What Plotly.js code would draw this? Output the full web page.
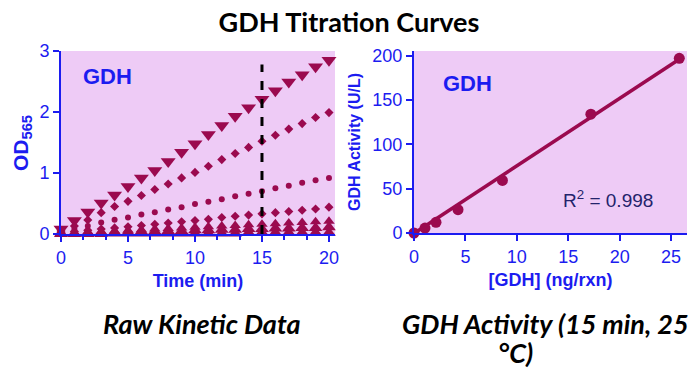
<!DOCTYPE html>
<html>
<head>
<meta charset="utf-8">
<script src="https://cdn.plot.ly/plotly-3.0.1.min.js"></script>
<style>html,body{margin:0;padding:0;background:#fff;}#chart{width:696px;height:368px;}</style>
</head>
<body>
<div id="chart"></div>
<script>
// ---- Data ----
const time = [0,1,2,3,4,5,6,7,8,9,10,11,12,13,14,15,16,17,18,19,20];
const od26 = [0.08,0.22,0.36,0.51,0.64,0.78,0.92,1.04,1.19,1.34,1.48,1.63,1.78,1.93,2.07,2.21,2.35,2.49,2.61,2.74,2.85];
const od17 = [0.05,0.13,0.23,0.35,0.45,0.535,0.63,0.73,0.82,0.92,1.01,1.11,1.22,1.32,1.42,1.52,1.62,1.72,1.81,1.91,1.99];
const od9  = [0.03,0.08,0.13,0.19,0.235,0.27,0.32,0.355,0.40,0.44,0.49,0.53,0.57,0.62,0.66,0.70,0.75,0.79,0.84,0.88,0.92];
const od4  = [0.02,0.04,0.06,0.08,0.10,0.12,0.14,0.16,0.18,0.20,0.22,0.24,0.27,0.29,0.31,0.33,0.35,0.37,0.39,0.41,0.44];
const od2  = [0.01,0.02,0.03,0.04,0.05,0.06,0.07,0.08,0.09,0.10,0.11,0.12,0.13,0.14,0.15,0.16,0.17,0.18,0.19,0.20,0.21];
const od1  = [0.01,0.01,0.02,0.02,0.03,0.03,0.04,0.04,0.05,0.05,0.06,0.06,0.07,0.07,0.08,0.08,0.09,0.09,0.10,0.10,0.11];
const od0  = [0.0,0.0,0.0,0.0,0.01,0.01,0.01,0.01,0.01,0.01,0.01,0.01,0.01,0.01,0.02,0.02,0.02,0.02,0.02,0.02,0.02];

const conc     = [0, 1.07, 2.14, 4.28, 8.6, 17.2, 25.8];
const activity = [0, 5.6, 12, 26.3, 59.3, 134, 197];
const fitX = [0, 25.8];
const fitY = [-0.5, 196];

const cutoffTime = [15, 15];
const cutoffOD   = [0, 2.78];

const leftXTicks  = [0, 5, 10, 15, 20];
const leftYTicks  = [0, 1, 2, 3];
const rightXTicks = [0, 5, 10, 15, 20, 25];
const rightYTicks = [0, 50, 100, 150, 200];

// ---- Styling ----
const MAROON = '#9b0a4f';
const BLUE = '#1c1cf0';
const PINK = '#eecbf6';
const SANS = 'Arial, Liberation Sans, sans-serif';
const AX_FONT = {family: SANS, size: 18, color: BLUE};

function series(y, symbol, size) {
  return {x: time, y: y, type: 'scatter', mode: 'markers', xaxis: 'x', yaxis: 'y',
    cliponaxis: false, hoverinfo: 'skip',
    marker: {symbol: symbol, size: size, color: MAROON, line: {width: 0}}};
}

const traces = [
  series(od0, 'triangle-up', 12),
  series(od1, 'triangle-up', 12),
  series(od2, 'triangle-up', 10),
  series(od4, 'diamond', 7),
  series(od9, 'circle', 6),
  series(od17, 'diamond', 7),
  series(od26, 'triangle-down', 13),
  {x: cutoffTime, y: cutoffOD, type: 'scatter', mode: 'lines', xaxis: 'x', yaxis: 'y',
   line: {color: 'black', width: 3, dash: 'dash'}, hoverinfo: 'skip'},
  {x: fitX, y: fitY, type: 'scatter', mode: 'lines', xaxis: 'x2', yaxis: 'y2', cliponaxis: false,
   line: {color: MAROON, width: 3.5}, hoverinfo: 'skip'},
  {x: conc, y: activity, type: 'scatter', mode: 'markers', xaxis: 'x2', yaxis: 'y2', cliponaxis: false,
   marker: {symbol: 'circle', size: 11, color: MAROON}, hoverinfo: 'skip'}
];

const axisCommon = {
  showgrid: false, zeroline: false, showline: true, linecolor: BLUE, linewidth: 2,
  ticks: 'outside', tickcolor: BLUE, tickwidth: 2, ticklen: 6, tickfont: AX_FONT,
  automargin: false, fixedrange: true
};

const layout = {
  width: 696, height: 368,
  margin: {l: 0, r: 0, t: 0, b: 0},
  paper_bgcolor: '#ffffff', plot_bgcolor: PINK,
  showlegend: false,
  title: {text: '<b>GDH Titration Curves</b>', font: {family: 'Lato, Open Sans, sans-serif', size: 27, color: '#000'},
          x: 349/696, xanchor: 'center', y: 1 - 23/368, yanchor: 'middle'},
  xaxis: Object.assign({}, axisCommon, {
    domain: [61/696, 335/696], range: [0, 20.45], tickvals: leftXTicks, ticktext: leftXTicks.map(String),
    anchor: 'y',
    minor: {dtick: 5/3, tick0: 0, ticks: 'outside', ticklen: 4, tickcolor: BLUE, tickwidth: 2, showgrid: false},
    title: {text: '<b>Time (min)</b>', font: {family: SANS, size: 18, color: BLUE}, standoff: 8}
  }),
  yaxis: Object.assign({}, axisCommon, {
    domain: [1 - 234/368, 1 - 51/368], range: [0, 3], tickvals: leftYTicks, ticktext: leftYTicks.map(String),
    anchor: 'x'
  }),
  xaxis2: Object.assign({}, axisCommon, {
    domain: [414/696, 687/696], range: [0, 26.55], tickvals: rightXTicks, ticktext: rightXTicks.map(String),
    anchor: 'y2',
    title: {text: '<b>[GDH] (ng/rxn)</b>', font: {family: SANS, size: 18, color: BLUE}, standoff: 8}
  }),
  yaxis2: Object.assign({}, axisCommon, {
    domain: [1 - 233/368, 1 - 51/368], range: [0, 205.3], tickvals: rightYTicks, ticktext: rightYTicks.map(String),
    anchor: 'x2',
    title: {text: '<b>GDH Activity (U/L)</b>', font: {family: SANS, size: 16, color: BLUE}, standoff: 8}
  }),
  annotations: [
    {xref: 'paper', yref: 'paper', x: 22/696, y: 1 - 143/368, text: '<b>OD<sub>565</sub></b>', showarrow: false,
     textangle: -90, xanchor: 'center', yanchor: 'middle', font: {family: SANS, size: 21, color: BLUE}},
    {xref: 'x', yref: 'y', x: 3.5, y: 2.59, text: '<b>GDH</b>', showarrow: false,
     font: {family: SANS, size: 22, color: BLUE}},
    {xref: 'x2', yref: 'y2', x: 5.16, y: 169, text: '<b>GDH</b>', showarrow: false,
     font: {family: SANS, size: 22, color: BLUE}},
    {xref: 'x2', yref: 'y2', x: 18.9, y: 38, text: 'R<sup>2</sup> = 0.998', showarrow: false,
     font: {family: SANS, size: 19, color: '#23236b'}},
    {xref: 'paper', yref: 'paper', x: 202/696, y: 1 - 323/368, text: '<b><i>Raw Kinetic Data</i></b>', showarrow: false,
     xanchor: 'center', yanchor: 'middle', font: {family: 'Lato, Open Sans, sans-serif', size: 27, color: '#000'}},
    {xref: 'paper', yref: 'paper', x: 545/696, y: 1 - 323/368, text: '<b><i>GDH Activity (15 min, 25</i></b>', showarrow: false,
     xanchor: 'center', yanchor: 'middle', font: {family: 'Lato, Open Sans, sans-serif', size: 27, color: '#000'}},
    {xref: 'paper', yref: 'paper', x: 515/696, y: 1 - 352/368, text: '<b><i>°C)</i></b>', showarrow: false,
     xanchor: 'center', yanchor: 'middle', font: {family: 'Lato, Open Sans, sans-serif', size: 27, color: '#000'}}
  ]
};

Plotly.newPlot('chart', traces, layout, {displayModeBar: false, staticPlot: true});
</script>
</body>
</html>
